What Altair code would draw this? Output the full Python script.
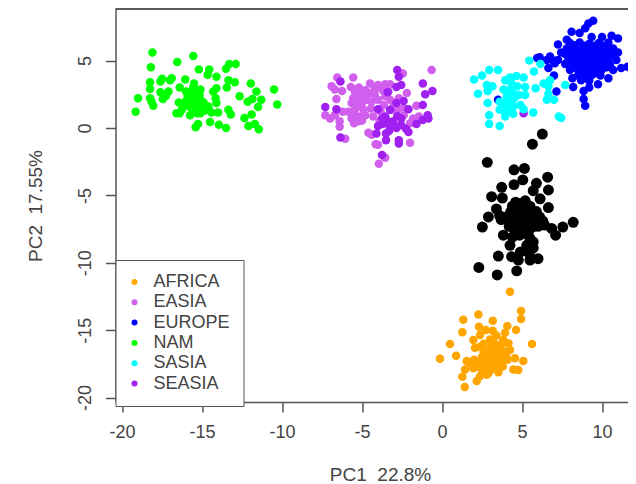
import altair as alt
import pandas as pd

LEGEND_GROUPS = ["AFRICA", "EASIA", "EUROPE", "NAM", "SASIA", "SEASIA"]
LEGEND_COLORS = ["#FFA500", "#D15FEE", "#0000FF", "#00FF00", "#00FFFF", "#A020F0"]
X_TICKS = [-20, -15, -10, -5, 0, 5, 10]
Y_TICKS = [-20, -15, -10, -5, 0, 5]

AFRICA = [(4.25,-12.15),(4.94,-13.58),(4.94,-14.17),(2.27,-13.83),(1.33,-14.22),(3.17,-14.3),(1.27,-15.16),(2.31,-14.74),(4.08,-14.69),(4.63,-14.99),(2.73,-14.99),(3.17,-15.04),(3.94,-15.19),(0.5,-16.03),(5.63,-16.03),(1.96,-15.73),(2.38,-15.36),(3.83,-15.73),(4.15,-15.98),(0.88,-16.89),(-0.13,-17.12),(2.06,-16.3),(2.38,-16.23),(4.25,-16.47),(1.54,-17.29),(1.75,-17.46),(5.08,-17.29),(4.56,-17.09),(4.46,-17.91),(4.77,-17.96),(1.44,-17.91),(1.27,-18.45),(2.38,-18.4),(2.17,-18.77),(1.42,-19.22),(3.52,-18.13),(2.9,-18.2),(1.96,-17.83),(2.6,-16.6),(3.0,-16.4),(3.3,-16.6),(3.6,-16.8),(3.9,-16.6),(2.5,-17.0),(2.8,-17.1),(3.1,-17.0),(3.4,-17.2),(3.7,-17.3),(2.3,-17.4),(2.7,-17.5),(3.0,-17.6),(3.3,-17.7),(2.5,-17.9),(2.9,-17.8),(3.6,-16.2),(3.3,-16.0),(3.0,-15.7),(2.6,-16.0),(4.0,-16.9),(2.2,-17.7),(3.1,-16.2),(3.5,-16.5),(2.9,-16.8),(3.2,-17.4),(2.6,-17.3),(3.5,-17.6),(4.1,-17.2),(3.0,-18.0),(2.8,-18.3),(2.0,-17.2),(3.8,-17.7),(3.7,-16.1),(3.4,-15.4)]

EASIA = [(-6.55,3.75),(-5.55,3.75),(-6.9,3.1),(-6.7,2.85),(-6.25,2.75),(-6.6,2.15),(-5.7,3.05),(-4.5,3.3),(-4.0,3.2),(-3.55,3.25),(-3.25,3.25),(-2.45,4.05),(-0.65,4.3),(-2.2,2.6),(-1.6,1.65),(-7.3,0.95),(-7.0,0.7),(-6.4,0.5),(-6.4,0.1),(-6.2,1.2),(-6.05,-0.8),(-4.6,-0.35),(-4.4,-0.5),(-4.15,-1.2),(-4.0,-1.25),(-2.0,-1.1),(-3.55,-2.2),(-3.95,-2.65),(-5.45,2.7),(-5.1,2.6),(-4.8,2.8),(-4.5,2.6),(-4.2,2.45),(-5.55,2.2),(-5.65,1.85),(-5.25,1.6),(-4.7,2.1),(-4.4,1.95),(-4.0,2.1),(-3.55,2.35),(-3.25,2.1),(-3.65,1.7),(-5.45,0.95),(-5.1,0.85),(-5.65,0.7),(-5.2,0.5),(-4.8,0.95),(-4.3,0.85),(-5.45,1.35),(-2.7,2.2),(-2.75,1.45),(-3.15,1.35),(-2.4,0.95),(-1.8,0.7),(-1.45,0.85),(-2.0,0.35),(-5.5,0.35),(-5.0,1.85),(-4.9,1.35),(-3.35,2.7),(-5.2,3.0),(-4.2,2.85),(-3.7,2.8),(-4.9,2.35),(-5.3,2.1),(-3.0,1.7),(-3.85,1.25),(-5.85,1.2),(-5.0,0.55),(-6.7,0.95),(-4.45,1.45),(-2.4,1.5),(-3.9,0.5)]

SEASIA = [(-6.35,3.45),(-2.8,4.3),(-2.7,3.8),(-2.55,3.2),(-2.85,3.05),(-1.2,3.3),(-0.6,2.75),(-1.05,2.5),(-3.4,2.65),(-2.4,2.0),(-2.85,1.85),(-1.2,1.7),(-2.1,1.4),(-7.3,1.55),(-6.6,1.4),(-4.0,1.4),(-3.25,1.35),(-2.8,0.9),(-3.75,0.7),(-3.45,0.55),(-3.05,0.5),(-2.55,0.7),(-4.0,0.15),(-4.1,-0.4),(-3.5,-0.4),(-3.5,-0.9),(-2.85,0.0),(-2.25,-0.05),(-2.1,-0.3),(-2.7,-0.9),(-2.7,-1.15),(-6.35,-0.7),(-3.75,-2.0),(-0.9,0.95),(-1.2,0.6),(-1.6,0.3),(-0.85,0.7),(-3.25,0.1),(-3.55,0.85),(5.1,1.1),(-3.0,0.25),(-3.7,0.3),(-2.55,0.2),(-3.3,-0.2)]

EUROPE = [(9.45,7.95),(9.15,7.75),(8.95,7.4),(8.1,7.15),(8.6,7.05),(10.6,6.85),(11.0,6.65),(7.25,6.2),(7.8,6.55),(10.0,6.75),(9.35,6.75),(5.95,5.2),(6.75,5.3),(7.25,5.05),(6.65,4.45),(7.0,3.9),(7.15,2.7),(8.2,3.05),(8.85,2.75),(9.2,3.0),(9.75,3.25),(8.85,2.15),(8.95,1.65),(10.4,3.7),(10.7,4.3),(11.2,4.45),(11.6,4.55),(11.0,5.6),(10.9,5.05),(3.5,2.1),(6.1,5.25),(7.05,4.8),(8.0,6.3),(8.6,6.35),(9.2,6.25),(9.8,6.3),(10.4,6.35),(7.8,5.9),(8.3,5.95),(8.8,5.85),(9.3,5.9),(9.8,5.95),(10.3,5.85),(10.7,5.9),(7.7,5.5),(8.2,5.45),(8.7,5.55),(9.2,5.5),(9.7,5.45),(10.2,5.55),(10.6,5.5),(7.9,5.1),(8.4,5.15),(8.9,5.05),(9.4,5.1),(9.9,5.15),(10.4,5.05),(8.1,4.7),(8.6,4.75),(9.1,4.65),(9.6,4.7),(10.1,4.75),(10.5,4.65),(8.0,4.3),(8.5,4.35),(9.0,4.25),(9.5,4.3),(10.0,4.35),(8.5,3.9),(9.0,3.85),(9.4,3.95),(9.9,3.9),(8.3,6.15),(8.9,6.1),(9.5,6.1),(10.1,6.1),(8.05,5.7),(8.55,5.7),(9.05,5.7),(9.55,5.7),(10.05,5.7),(10.5,5.7),(7.95,5.3),(8.45,5.3),(8.95,5.3),(9.45,5.3),(9.95,5.3),(10.45,5.3),(8.15,4.9),(8.65,4.9),(9.15,4.9),(9.65,4.9),(10.15,4.9),(7.7,4.75),(8.3,4.5),(8.8,4.5),(9.3,4.5),(9.8,4.5),(10.3,4.5),(8.75,4.1),(9.25,4.1),(9.7,4.1),(8.15,3.7),(8.7,3.55),(9.2,3.5),(7.45,5.6),(6.55,5.05),(6.9,5.05)]

NAM = [(-18.1,5.6),(-15.55,5.35),(-16.55,4.9),(-18.2,4.5),(-15.2,4.35),(-14.55,4.35),(-14.65,3.95),(-14.1,3.8),(-13.5,4.4),(-13.3,4.75),(-12.9,4.75),(-18.25,3.4),(-18.25,2.9),(-17.6,3.45),(-17.5,3.65),(-16.9,3.7),(-17.0,3.55),(-16.05,3.6),(-15.5,3.3),(-16.4,3.0),(-16.0,2.7),(-15.55,3.0),(-15.1,2.85),(-14.1,2.95),(-14.3,2.7),(-13.45,3.0),(-13.35,3.55),(-12.95,3.4),(-11.95,3.3),(-11.6,2.7),(-10.5,2.85),(-10.3,1.75),(-11.3,2.1),(-11.85,2.15),(-12.15,1.95),(-12.65,2.35),(-11.5,1.55),(-11.9,1.0),(-12.35,0.75),(-12.1,0.15),(-11.7,0.3),(-11.45,-0.1),(-13.5,0.0),(-13.95,0.25),(-14.5,0.45),(-15.25,0.3),(-15.4,0.05),(-13.2,1.0),(-13.35,1.35),(-14.0,1.15),(-14.4,1.15),(-15.75,0.95),(-16.4,1.1),(-16.6,1.1),(-16.25,1.4),(-16.45,1.9),(-15.1,1.1),(-14.6,1.6),(-14.1,1.85),(-14.15,2.2),(-19.0,2.2),(-19.15,1.2),(-18.25,2.2),(-18.05,1.65),(-18.15,1.95),(-17.6,2.65),(-17.1,2.7),(-17.25,2.4),(-17.45,2.15),(-15.9,2.4),(-15.7,2.2),(-15.5,2.5),(-15.3,2.3),(-15.1,2.1),(-15.6,1.9),(-15.4,1.7),(-15.2,1.8),(-15.0,1.5),(-15.8,1.7),(-16.0,2.0),(-15.3,2.6),(-15.5,1.3),(-15.3,1.1),(-14.9,1.9),(-14.8,1.3),(-15.7,1.5),(-15.45,2.05),(-15.75,2.55),(-15.15,2.45),(-16.1,1.65),(-15.0,1.75)]

SASIA = [(5.45,5.0),(6.15,4.75),(5.75,4.2),(2.95,4.3),(3.5,4.3),(2.5,3.9),(2.0,3.6),(2.8,3.2),(3.15,3.1),(2.85,2.75),(2.25,2.55),(2.85,1.85),(2.95,0.95),(2.95,0.3),(3.6,0.15),(3.95,0.85),(4.45,1.05),(5.7,1.15),(7.3,0.85),(7.45,0.75),(6.55,2.1),(7.0,2.1),(7.7,3.2),(6.65,2.55),(6.35,3.3),(6.75,3.55),(6.65,3.1),(5.85,2.95),(5.2,3.05),(5.2,2.45),(4.8,2.45),(5.1,3.75),(4.65,3.85),(4.25,3.75),(3.95,3.55),(3.85,2.85),(4.25,2.85),(4.05,2.35),(4.45,2.55),(4.25,2.1),(3.85,1.85),(3.6,1.95),(4.15,1.6),(4.45,1.6),(3.95,1.2),(4.25,1.35),(4.9,1.7),(5.1,1.4),(4.35,1.85),(3.6,1.35),(4.0,1.55),(4.3,3.4),(4.7,3.1),(4.1,2.0),(4.5,2.2)]

UNLABELLED = [(6.27,-0.45),(5.65,-1.2),(2.83,-2.55),(4.5,-3.1),(5.15,-3.0),(6.6,-3.65),(5.05,-3.85),(4.5,-4.2),(3.73,-4.4),(5.9,-4.1),(5.7,-4.65),(6.65,-4.6),(3.1,-5.1),(3.77,-5.2),(6.13,-5.25),(6.65,-5.9),(3.4,-6.0),(2.9,-6.6),(2.52,-7.35),(3.83,-7.95),(8.2,-7.0),(7.55,-7.35),(7.1,-7.95),(4.25,-8.7),(3.52,-9.5),(2.3,-10.35),(3.45,-10.9),(4.67,-10.6),(4.35,-9.55),(4.77,-9.8),(5.5,-9.8),(6.0,-9.7),(5.7,-8.9),(5.3,-8.7),(5.7,-8.45),(4.85,-7.95),(5.4,-7.95),(6.85,-7.45),(4.4,-5.8),(4.8,-5.6),(5.2,-5.4),(5.5,-5.8),(5.0,-6.1),(4.5,-6.3),(4.0,-6.6),(4.3,-6.9),(4.7,-6.6),(5.1,-6.6),(5.5,-6.3),(5.9,-6.2),(6.1,-6.6),(5.8,-6.9),(5.4,-7.0),(5.0,-7.1),(4.6,-7.2),(4.2,-7.3),(4.8,-7.6),(5.2,-7.5),(5.6,-7.4),(6.0,-7.3),(6.4,-7.2),(3.7,-6.8),(3.6,-6.5),(5.2,-5.8),(4.6,-5.5),(4.9,-5.9),(4.3,-6.2),(5.3,-6.1),(4.9,-6.9),(5.6,-6.6),(6.3,-6.9),(4.5,-7.5),(5.0,-7.4),(5.5,-8.2),(4.4,-8.1),(5.45,-9.3),(4.9,-9.2)]

DRAW_ORDER = [("AFRICA", AFRICA), ("EASIA", EASIA), ("SEASIA", SEASIA), ("EUROPE", EUROPE), ("SASIA", SASIA), ("NAM", NAM)]

df = pd.DataFrame(
    [{"PC1": x, "PC2": y, "group": g} for g, pts in DRAW_ORDER for x, y in pts]
)
black = pd.DataFrame(UNLABELLED, columns=["PC1", "PC2"])

FONT = "Liberation Sans"
TEXT = "#444444"
LINE = "#555555"
W, H = 512.5, 393
HYPHEN = "replace(format(datum.value, 'd'), '\u2212', '-')"

x_scale = alt.Scale(domain=[-20.41, 11.625], nice=False, zero=False)
y_scale = alt.Scale(domain=[-20.33, 8.83], nice=False, zero=False)
x_axis = alt.Axis(
    title="PC1\u00a0\u00a022.8%", values=X_TICKS, grid=False, tickSize=10, tickColor=LINE, tickWidth=1.5,
    domainColor=LINE, domainWidth=1.5, labelFont=FONT, labelFontSize=18, labelColor=TEXT,
    labelPadding=11, labelFlush=False, labelExpr=HYPHEN, titleFont=FONT, titleFontSize=19,
    titleFontWeight="normal", titleColor=TEXT, titlePadding=24, titleX=264.5,
)
y_axis = alt.Axis(
    title="PC2\u00a0\u00a017.55%", values=Y_TICKS, grid=False, tickSize=10, tickColor=LINE, tickWidth=1.5,
    domainColor=LINE, domainWidth=1.5, labelFont=FONT, labelFontSize=18, labelColor=TEXT,
    labelAngle=270, labelAlign="center", labelBaseline="bottom", labelPadding=11,
    labelFlush=False, labelExpr=HYPHEN, titleFont=FONT, titleFontSize=19, titleFontWeight="normal",
    titleColor=TEXT, titlePadding=31,
)

legend = alt.Legend(
    title=None, orient="none", legendX=0, legendY=251, strokeColor=LINE, fillColor="white",
    padding=13, symbolType="circle", symbolSize=36, symbolStrokeWidth=0, symbolOffset=-3, labelFont=FONT,
    labelFontSize=18, labelColor=TEXT, labelOffset=10, rowPadding=2.3, labelLimit=200,
)

points = alt.Chart(df).mark_circle(size=72, opacity=1).encode(
    x=alt.X("PC1:Q", scale=x_scale, axis=x_axis),
    y=alt.Y("PC2:Q", scale=y_scale, axis=y_axis),
    color=alt.Color("group:N", scale=alt.Scale(domain=LEGEND_GROUPS, range=LEGEND_COLORS), legend=legend),
)

black_points = alt.Chart(black).mark_circle(size=120, opacity=1, color="black").encode(
    x=alt.X("PC1:Q", scale=x_scale, axis=x_axis),
    y=alt.Y("PC2:Q", scale=y_scale, axis=y_axis),
)

top_rule = alt.Chart().mark_rule(color="#222222", strokeWidth=1.5).encode(
    x=alt.value(0), x2=alt.value(W), y=alt.value(0)
)

chart = (
    alt.layer(points, black_points, top_rule)
    .properties(
        width=W, height=H, background="white",
        autosize=alt.AutoSizeParams(type="none"),
        padding={"left": 107.5, "top": 1, "right": 0, "bottom": 82},
    )
    .configure_view(stroke=None)
)

chart.save("out.html", embed_options={"renderer": "svg", "actions": False})
